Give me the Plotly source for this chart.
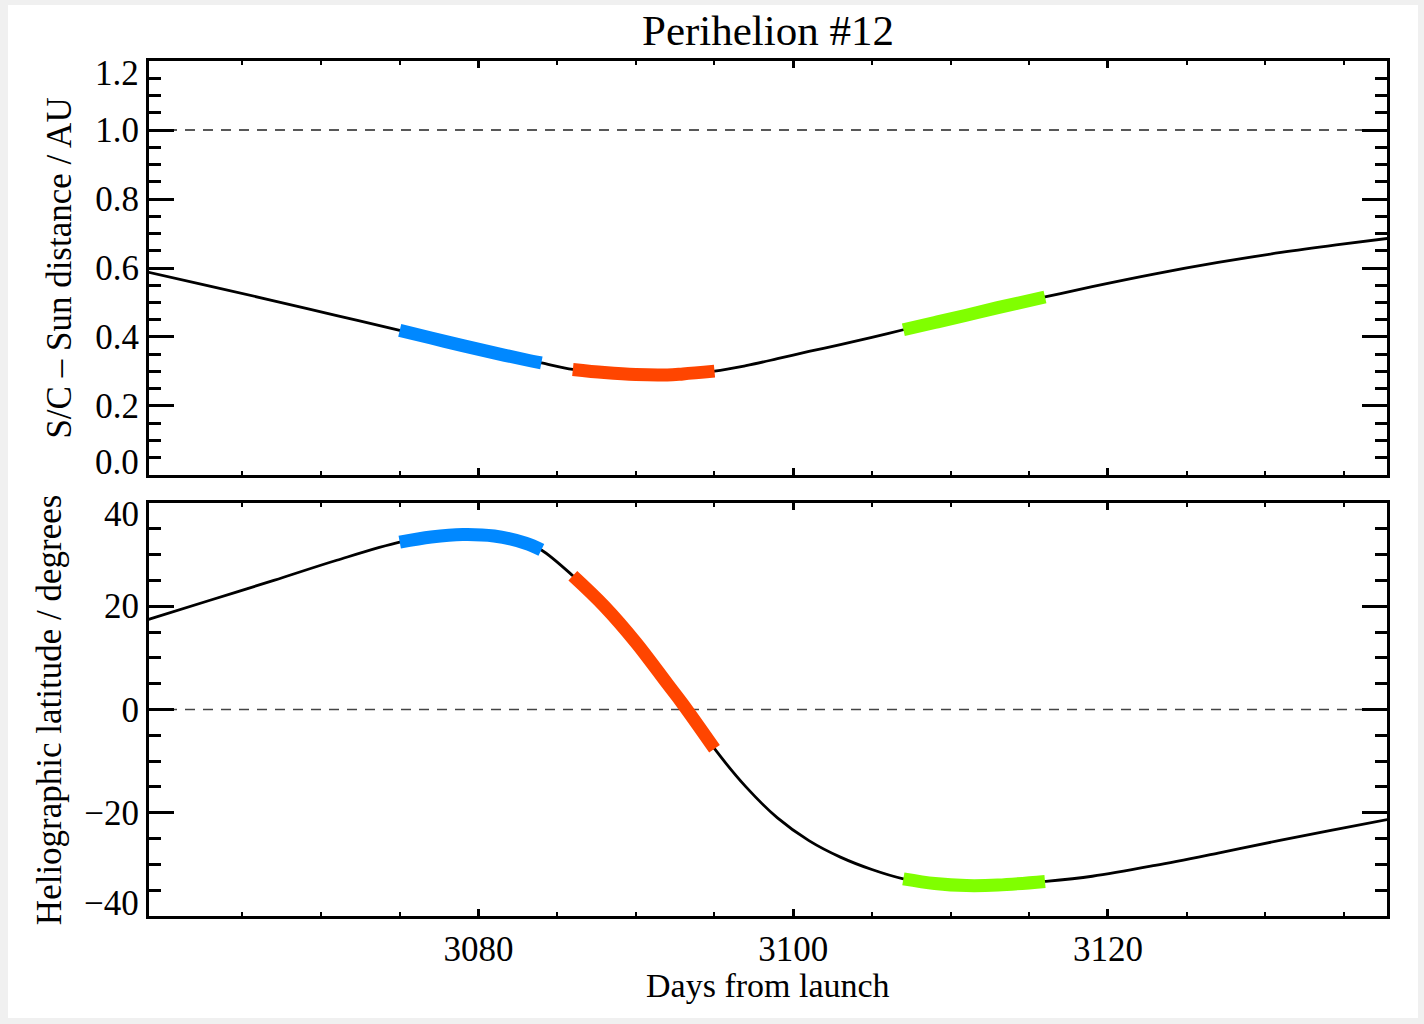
import plotly.graph_objects as go

# ---- data ----
days = [3059.0, 3063, 3067, 3071, 3075, 3077, 3079, 3081, 3083, 3084, 3086, 3088, 3090,
        3092, 3093, 3095, 3097, 3099, 3101, 3103, 3105, 3107, 3109, 3111, 3113, 3116,
        3119, 3123, 3127, 3131, 3134.5, 3137.8]
distance_au = [0.588, 0.547, 0.505, 0.462, 0.419, 0.397, 0.375, 0.354, 0.334, 0.325, 0.306,
               0.297, 0.291, 0.290, 0.293, 0.301, 0.317, 0.337, 0.358, 0.378, 0.399, 0.421,
               0.442, 0.463, 0.485, 0.516, 0.546, 0.583, 0.616, 0.645, 0.667, 0.686]
latitude_deg = [17.4, 21.2, 25.0, 28.9, 32.4, 33.4, 33.9, 33.6, 32.2, 30.9, 25.9, 20.0, 13.0,
                5.0, 1.0, -7.6, -15.0, -21.0, -25.4, -28.6, -31.0, -32.8, -33.7, -34.1, -34.0,
                -33.3, -32.3, -30.2, -27.8, -25.3, -23.2, -21.3]

window_starts = [3075, 3086, 3107]
window_ends = [3084, 3095, 3116]
window_colors = ["#0088ff", "#ff4500", "#80ff00"]

ref_distance = [1.0]
ref_latitude = [0.0]

x_range = [3059.07, 3137.73]
x_major_ticks = [3080, 3100, 3120]
x_minor_ticks = [3065, 3070, 3075, 3085, 3090, 3095, 3105, 3110, 3115, 3125, 3130, 3135]

dist_range = [0.0, 1.2]
dist_ticks = [0.0, 0.2, 0.4, 0.6, 0.8, 1.0, 1.2]
lat_range = [-40, 40]
lat_ticks = [-40, -20, 0, 20, 40]

FONT = "Liberation Serif"
TICK_SIZE = 35

fig = go.Figure()

# black curves
fig.add_trace(go.Scatter(x=days, y=distance_au, mode="lines", xaxis="x2", yaxis="y2",
                         line=dict(color="black", width=2.8, shape="spline", smoothing=1.0),
                         showlegend=False, hoverinfo="skip"))
fig.add_trace(go.Scatter(x=days, y=latitude_deg, mode="lines", xaxis="x", yaxis="y",
                         line=dict(color="black", width=2.8, shape="spline", smoothing=1.0),
                         showlegend=False, hoverinfo="skip"))

# coloured windows
for s, e, c in zip(window_starts, window_ends, window_colors):
    idx = [i for i, d in enumerate(days) if s <= d <= e]
    fig.add_trace(go.Scatter(x=[days[i] for i in idx], y=[distance_au[i] for i in idx],
                             mode="lines", xaxis="x2", yaxis="y2",
                             line=dict(color=c, width=13, shape="spline", smoothing=1.0),
                             showlegend=False, hoverinfo="skip"))
    fig.add_trace(go.Scatter(x=[days[i] for i in idx], y=[latitude_deg[i] for i in idx],
                             mode="lines", xaxis="x", yaxis="y",
                             line=dict(color=c, width=13, shape="spline", smoothing=1.0),
                             showlegend=False, hoverinfo="skip"))

# dashed reference lines
shapes = []
for v in ref_distance:
    shapes.append(dict(type="line", xref="x2 domain", yref="y2", x0=0, x1=1, y0=v, y1=v,
                       line=dict(color="#222", width=1.5, dash="10px,8px"), layer="below"))
for v in ref_latitude:
    shapes.append(dict(type="line", xref="x domain", yref="y", x0=0, x1=1, y0=v, y1=v,
                       line=dict(color="#444", width=1.5, dash="10px,8px"), layer="below"))

tickfont = dict(family=FONT, size=TICK_SIZE, color="black")

common_x = dict(range=x_range, tickmode="array", tickvals=x_major_ticks, ticks="inside",
                ticklen=7, tickwidth=2.5, tickcolor="black", mirror="allticks",
                showline=True, linewidth=3, linecolor="black", showgrid=False,
                zeroline=False,
                minor=dict(tickmode="array", tickvals=x_minor_ticks, ticks="inside",
                           ticklen=4, tickwidth=2, tickcolor="black", showgrid=False))
common_y = dict(ticks="inside", ticklen=25, tickwidth=2.5, tickcolor="black",
                mirror="allticks", showline=True, linewidth=3, linecolor="black",
                showgrid=False, zeroline=False, tickfont=tickfont, ticklabelstandoff=0,
                tickmode="array")


def labels(vals, fmt):
    # interior labels on the axis; the two end labels are drawn as annotations
    return ["" if i in (0, len(vals) - 1) else fmt(v) for i, v in enumerate(vals)]


def minus(s):
    return s.replace("-", "\u2212")


annotations = [
    dict(text="Days from launch", xref="paper", yref="paper", x=0.5, y=-0.0812,
         xanchor="center", yanchor="middle", showarrow=False,
         font=dict(family=FONT, size=34, color="black")),
    dict(text="S/C – Sun distance / AU", xref="paper", yref="paper", x=-0.0722,
         y=0.7579, xanchor="center", yanchor="middle", textangle=-90, showarrow=False,
         font=dict(family=FONT, size=35, color="black")),
    dict(text="Heliographic latitude / degrees", xref="paper", yref="paper", x=-0.0802,
         y=0.2416, xanchor="center", yanchor="middle", textangle=-90, showarrow=False,
         font=dict(family=FONT, size=35, color="black")),
]
# end labels, nudged inwards as in the reference
for yref, vals, fmt in (("y2", dist_ticks, lambda v: f"{v:.1f}"),
                        ("y", lat_ticks, lambda v: minus(f"{v:d}"))):
    for i in (0, len(vals) - 1):
        annotations.append(dict(text=fmt(vals[i]), xref="paper", yref=yref, x=0,
                                y=vals[i], xanchor="right", yanchor="middle",
                                xshift=-8, yshift=(12 if i == 0 else -12),
                                showarrow=False, font=tickfont))

W, H = 1410, 1013
fig.update_layout(
    width=W, height=H,
    margin=dict(l=141.3, r=31.3, t=55.5, b=102.4, autoexpand=False),
    paper_bgcolor="white", plot_bgcolor="white",
    font=dict(family=FONT, color="black"),
    title=dict(text="Perihelion #12", x=0.5, xref="paper", xanchor="center",
               y=1 - 25 / H, yref="container", yanchor="middle",
               font=dict(family=FONT, size=43, color="black")),
    xaxis=dict(**common_x, anchor="y", domain=[0, 1], tickfont=tickfont,
               ticklabelstandoff=0),
    xaxis2=dict(**common_x, anchor="y2", domain=[0, 1], matches="x", showticklabels=False),
    yaxis=dict(**common_y, anchor="x", domain=[0, 0.4831], range=lat_range,
               tickvals=lat_ticks, ticktext=labels(lat_ticks, lambda v: minus(f"{v:d}")),
               minor=dict(dtick=5, tick0=0, ticks="inside", ticklen=12, tickwidth=2.5,
                          tickcolor="black", showgrid=False)),
    yaxis2=dict(**common_y, anchor="x2", domain=[0.5158, 1], range=dist_range,
                tickvals=dist_ticks, ticktext=labels(dist_ticks, lambda v: f"{v:.1f}"),
                minor=dict(dtick=0.05, tick0=0, ticks="inside", ticklen=12, tickwidth=2.5,
                           tickcolor="black", showgrid=False)),
    shapes=shapes,
    annotations=annotations,
)

post = ("document.body.style.margin='5px 0 0 8px';"
        "document.body.style.background='#f0f0f0';"
        "document.body.style.overflow='hidden';")
fig.write_html("out.html", post_script=post)
